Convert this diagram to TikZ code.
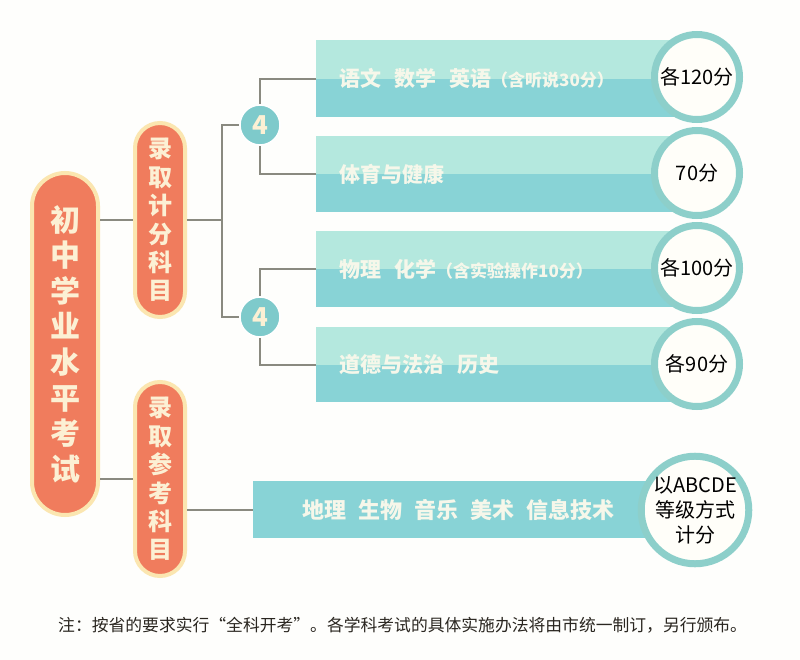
\documentclass[tikz,border=0pt]{standalone}
\usepackage{fontspec}
\setmainfont{Noto Sans CJK SC}
\definecolor{bgc}{HTML}{FEFEFC}
\definecolor{orng}{HTML}{F07C5D}
\definecolor{glow}{HTML}{FBE6B0}
\definecolor{cream}{HTML}{FCF0D4}
\definecolor{boxlight}{HTML}{B4E8DE}
\definecolor{boxdark}{HTML}{88D3D6}
\definecolor{boxtext}{HTML}{F6F7EA}
\definecolor{ring}{HTML}{8DCFCA}
\definecolor{ringfill}{HTML}{FFFEF9}
\definecolor{fourfill}{HTML}{7ECACB}
\definecolor{linec}{HTML}{8A8A80}
\definecolor{notec}{HTML}{2A2620}
\begin{document}
\begin{tikzpicture}[x=1pt,y=-1pt,
  pill/.style={fill=orng, draw=glow, line width=4pt, inner sep=0pt, text=cream, align=center},
  twotone/.style={fill=boxlight, inner ysep=0pt, inner xsep=0pt, anchor=north west, align=left,
    path picture={\fill[boxdark] (path picture bounding box.west) rectangle (path picture bounding box.south east);}},
  score/.style={circle, fill=ringfill, draw=ring, line width=7pt, inner sep=0pt, align=center,
    font=\fontsize{20}{25}\selectfont, text=black},
  four/.style={circle, fill=fourfill, draw=white, line width=1.5pt, minimum size=40pt, inner sep=0pt,
    text=cream, font=\fontsize{26}{26}\selectfont\bfseries},
  conn/.style={draw=linec, line width=1.8pt}]
\fill[bgc] (0,0) rectangle (800,660);
\useasboundingbox (0,0) rectangle (800,660);

% pills
\node[pill, rounded corners=33pt, minimum width=66pt, minimum height=342pt,
  font=\fontsize{30}{35.6}\selectfont\bfseries] (main) at (65,344)
  {初\\中\\学\\业\\水\\平\\考\\试};
\node[pill, rounded corners=25pt, minimum width=50pt, minimum height=194pt,
  font=\fontsize{24}{28.4}\selectfont\bfseries] (p1) at (160,220)
  {录\\取\\计\\分\\科\\目};
\node[pill, rounded corners=25pt, minimum width=50pt, minimum height=194pt,
  font=\fontsize{24}{28.4}\selectfont\bfseries] (p2) at (160,479)
  {录\\取\\参\\考\\科\\目};

% boxes
\node[twotone, minimum width=381pt, minimum height=77pt, text width=381pt] (b1) at (316,40)
  {\hspace*{23pt}\textcolor{boxtext}{\fontsize{21}{24}\selectfont\bfseries 语文\hspace{13pt}数学\hspace{13pt}英语\fontsize{17}{20}\selectfont（含听说30分）}};
\node[twotone, minimum width=381pt, minimum height=76pt, text width=381pt] (b2) at (316,136)
  {\hspace*{23pt}\textcolor{boxtext}{\fontsize{21}{24}\selectfont\bfseries 体育与健康}};
\node[twotone, minimum width=381pt, minimum height=76pt, text width=381pt] (b3) at (316,231)
  {\hspace*{23pt}\textcolor{boxtext}{\fontsize{21}{24}\selectfont\bfseries 物理\hspace{13pt}化学\fontsize{17}{20}\selectfont（含实验操作10分）}};
\node[twotone, minimum width=381pt, minimum height=75pt, text width=381pt] (b4) at (316,327)
  {\hspace*{23pt}\textcolor{boxtext}{\fontsize{21}{24}\selectfont\bfseries 道德与法治\hspace{13pt}历史}};
\node[fill=boxdark, anchor=north west, minimum width=442pt, minimum height=57pt, inner sep=0pt,
  text width=442pt, align=left] (b5) at (253,481)
  {\hspace*{49pt}\textcolor{boxtext}{\fontsize{22}{24}\selectfont\bfseries 地理\hspace{12pt}生物\hspace{12pt}音乐\hspace{12pt}美术\hspace{12pt}信息技术}};

% junction
\coordinate (j1) at (222,220);

% connectors
\draw[conn] (main.east |- p1.west) -- (p1.west);
\draw[conn] (main.east |- p2.west) -- (p2.west);
\draw[conn] (p1.east) -- (j1);
\node[four] (c1) at (260,125) {};
\node[four] (c2) at (260,317) {};
\draw[conn] (c1.west) -| (j1) |- (c2.west);
\draw[conn] (b1.west) -| (c1.north);
\draw[conn] (b2.west) -| (c1.south);
\draw[conn] (b3.west) -| (c2.north);
\draw[conn] (b4.west) -| (c2.south);
\draw[conn] (b5.west -| p2.east) -- (b5.west);
\node[four] at (c1) {4};
\node[four] at (c2) {4};

% score circles
\node[score, minimum size=85pt] (s1) at (697,77) {各120分};
\node[score, minimum size=85pt] (s2) at (697,173) {70分};
\node[score, minimum size=85pt] (s3) at (697,268) {各100分};
\node[score, minimum size=85pt] (s4) at (697,364) {各90分};
\node[score, minimum size=105pt] (s5) at (695,510) {以ABCDE\\等级方式\\计分};

% note
\node[anchor=west, inner sep=0pt, text=notec, font=\fontsize{16.8}{20}\selectfont] (note) at (58,625)
  {注：按省的要求实行“全科开考”。各学科考试的具体实施办法将由市统一制订，另行颁布。};
\end{tikzpicture}
\end{document}
